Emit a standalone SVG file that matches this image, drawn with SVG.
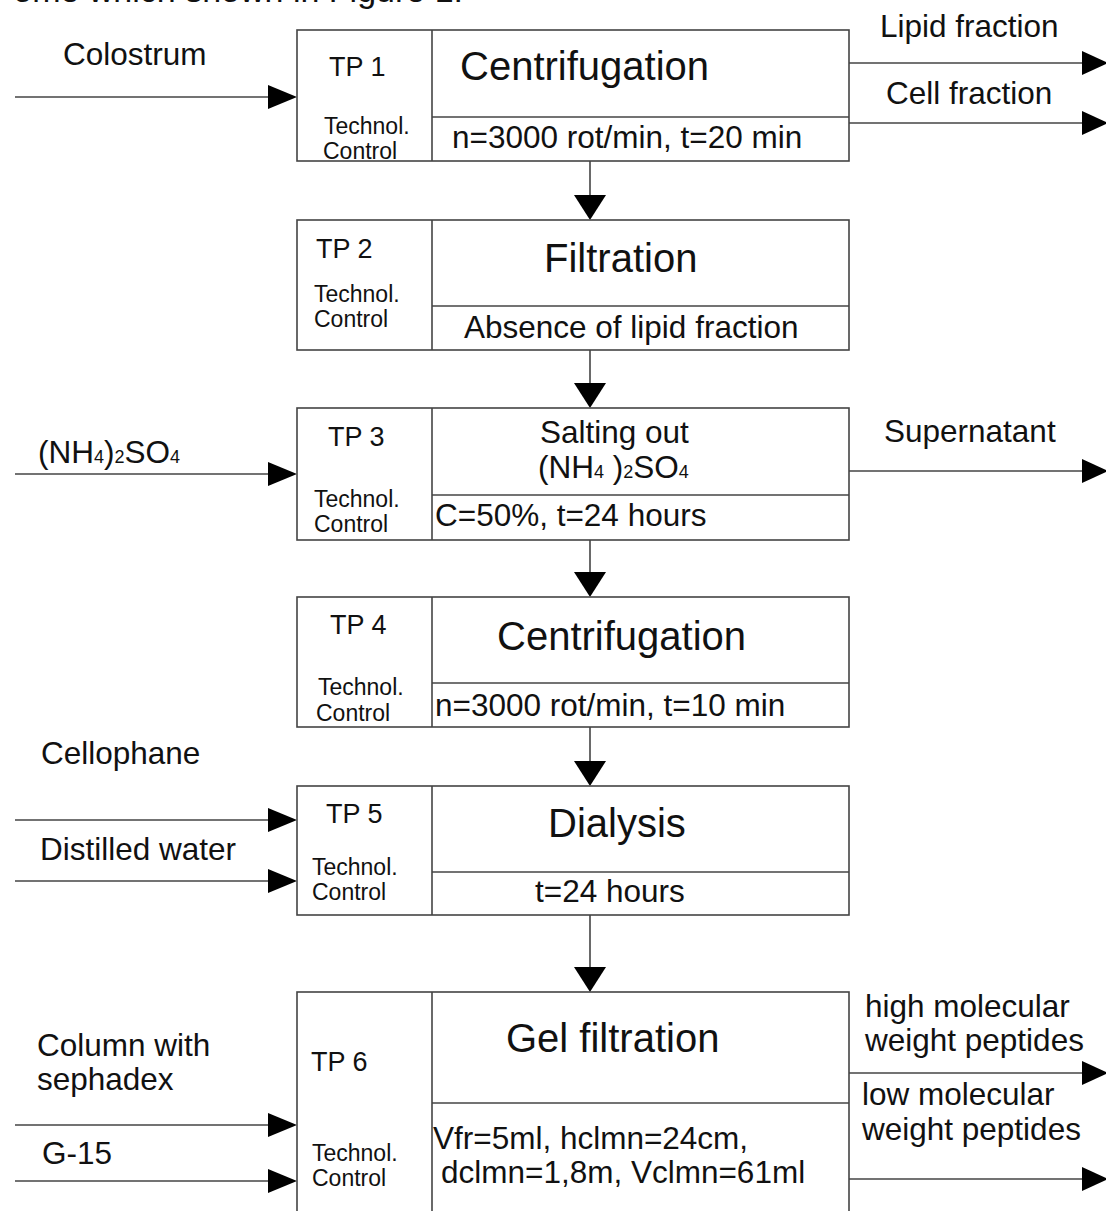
<svg xmlns="http://www.w3.org/2000/svg" width="1106" height="1211" viewBox="0 0 1106 1211">
<defs>
<style>
text{font-family:"Liberation Sans",Arial,sans-serif;fill:#111}
.lbl{font-size:31.5px}
.tp{font-size:27px}
.tc{font-size:23px}
.ttl{font-size:40px}
.sub{font-size:18px}
.box{fill:#fff;stroke:#444;stroke-width:1.6}
.ln{stroke:#444;stroke-width:1.6;fill:none}
.ah{fill:#000}
</style>
</defs>
<rect width="1106" height="1211" fill="#fff"/>
<text x="463" y="2" font-size="34" text-anchor="end">ome which shown in Figure 1.</text>

<g id="connectors">
  <line class="ln" x1="15" y1="97" x2="270" y2="97"/><polygon class="ah" points="268,85 297,97 268,109"/>
  <line class="ln" x1="15" y1="474" x2="270" y2="474"/><polygon class="ah" points="268,462 297,474 268,486"/>
  <line class="ln" x1="15" y1="820" x2="270" y2="820"/><polygon class="ah" points="268,808 297,820 268,832"/>
  <line class="ln" x1="15" y1="881" x2="270" y2="881"/><polygon class="ah" points="268,869 297,881 268,893"/>
  <line class="ln" x1="15" y1="1125" x2="270" y2="1125"/><polygon class="ah" points="268,1113 297,1125 268,1137"/>
  <line class="ln" x1="15" y1="1181" x2="270" y2="1181"/><polygon class="ah" points="268,1169 297,1181 268,1193"/>
  <line class="ln" x1="849" y1="63" x2="1084" y2="63"/><polygon class="ah" points="1082,51 1108,63 1082,75"/>
  <line class="ln" x1="849" y1="123" x2="1084" y2="123"/><polygon class="ah" points="1082,111 1108,123 1082,135"/>
  <line class="ln" x1="849" y1="471" x2="1084" y2="471"/><polygon class="ah" points="1082,459 1108,471 1082,483"/>
  <line class="ln" x1="849" y1="1073" x2="1084" y2="1073"/><polygon class="ah" points="1082,1061 1108,1073 1082,1085"/>
  <line class="ln" x1="849" y1="1179" x2="1084" y2="1179"/><polygon class="ah" points="1082,1167 1108,1179 1082,1191"/>
  <line class="ln" x1="590" y1="161" x2="590" y2="197"/><polygon class="ah" points="574,195 606,195 590,220"/>
  <line class="ln" x1="590" y1="350" x2="590" y2="385"/><polygon class="ah" points="574,383 606,383 590,408"/>
  <line class="ln" x1="590" y1="540" x2="590" y2="574"/><polygon class="ah" points="574,572 606,572 590,597"/>
  <line class="ln" x1="590" y1="727" x2="590" y2="763"/><polygon class="ah" points="574,761 606,761 590,786"/>
  <line class="ln" x1="590" y1="915" x2="590" y2="969"/><polygon class="ah" points="574,967 606,967 590,992"/>
</g>

<g id="labels">
  <text class="lbl" x="63" y="65" font-size="31">Colostrum</text>
  <text class="lbl" x="880" y="37">Lipid fraction</text>
  <text class="lbl" x="886" y="104">Cell fraction</text>
  <text class="lbl" x="38" y="463">(NH<tspan class="sub">4</tspan>)<tspan class="sub">2</tspan>SO<tspan class="sub">4</tspan></text>
  <text class="lbl" x="884" y="442">Supernatant</text>
  <text class="lbl" x="41" y="764">Cellophane</text>
  <text class="lbl" x="40" y="860">Distilled water</text>
  <text class="lbl" x="37" y="1056">Column with</text>
  <text class="lbl" x="37" y="1090">sephadex</text>
  <text class="lbl" x="42" y="1164">G-15</text>
  <text class="lbl" x="865" y="1017">high molecular</text>
  <text class="lbl" x="865" y="1051">weight peptides</text>
  <text class="lbl" x="862" y="1105">low molecular</text>
  <text class="lbl" x="862" y="1140">weight peptides</text>
</g>

<g id="tp1">
  <rect class="box" x="297" y="30" width="552" height="131"/>
  <line class="ln" x1="432" y1="30" x2="432" y2="161"/>
  <line class="ln" x1="432" y1="117" x2="849" y2="117"/>
  <text class="tp" x="329" y="76">TP 1</text>
  <text class="tc" x="324" y="134">Technol.</text>
  <text class="tc" x="323" y="159">Control</text>
  <text class="ttl" x="460" y="80">Centrifugation</text>
  <text class="lbl" x="452" y="148">n=3000 rot/min, t=20 min</text>
</g>

<g id="tp2">
  <rect class="box" x="297" y="220" width="552" height="130"/>
  <line class="ln" x1="432" y1="220" x2="432" y2="350"/>
  <line class="ln" x1="432" y1="306" x2="849" y2="306"/>
  <text class="tp" x="316" y="258">TP 2</text>
  <text class="tc" x="314" y="302">Technol.</text>
  <text class="tc" x="314" y="327">Control</text>
  <text class="ttl" x="544" y="272">Filtration</text>
  <text class="lbl" x="464" y="338">Absence of lipid fraction</text>
</g>

<g id="tp3">
  <rect class="box" x="297" y="408" width="552" height="132"/>
  <line class="ln" x1="432" y1="408" x2="432" y2="540"/>
  <line class="ln" x1="432" y1="495" x2="849" y2="495"/>
  <text class="tp" x="328" y="446">TP 3</text>
  <text class="tc" x="314" y="507">Technol.</text>
  <text class="tc" x="314" y="532">Control</text>
  <text class="lbl" x="540" y="443">Salting out</text>
  <text class="lbl" x="538" y="478">(NH<tspan class="sub">4</tspan> )<tspan class="sub">2</tspan>SO<tspan class="sub">4</tspan></text>
  <text class="lbl" x="435" y="526">C=50%, t=24 hours</text>
</g>

<g id="tp4">
  <rect class="box" x="297" y="597" width="552" height="130"/>
  <line class="ln" x1="432" y1="597" x2="432" y2="727"/>
  <line class="ln" x1="432" y1="683" x2="849" y2="683"/>
  <text class="tp" x="330" y="634">TP 4</text>
  <text class="tc" x="318" y="695">Technol.</text>
  <text class="tc" x="316" y="721">Control</text>
  <text class="ttl" x="497" y="650">Centrifugation</text>
  <text class="lbl" x="435" y="716">n=3000 rot/min, t=10 min</text>
</g>

<g id="tp5">
  <rect class="box" x="297" y="786" width="552" height="129"/>
  <line class="ln" x1="432" y1="786" x2="432" y2="915"/>
  <line class="ln" x1="432" y1="872" x2="849" y2="872"/>
  <text class="tp" x="326" y="823">TP 5</text>
  <text class="tc" x="312" y="875">Technol.</text>
  <text class="tc" x="312" y="900">Control</text>
  <text class="ttl" x="548" y="837">Dialysis</text>
  <text class="lbl" x="535" y="902">t=24 hours</text>
</g>

<g id="tp6">
  <rect class="box" x="297" y="992" width="552" height="240"/>
  <line class="ln" x1="432" y1="992" x2="432" y2="1211"/>
  <line class="ln" x1="432" y1="1103" x2="849" y2="1103"/>
  <text class="tp" x="311" y="1071">TP 6</text>
  <text class="tc" x="312" y="1161">Technol.</text>
  <text class="tc" x="312" y="1186">Control</text>
  <text class="ttl" x="506" y="1052">Gel filtration</text>
  <text class="lbl" x="433" y="1149">Vfr=5ml, hclmn=24cm,</text>
  <text class="lbl" x="441" y="1183">dclmn=1,8m, Vclmn=61ml</text>
</g>
</svg>
